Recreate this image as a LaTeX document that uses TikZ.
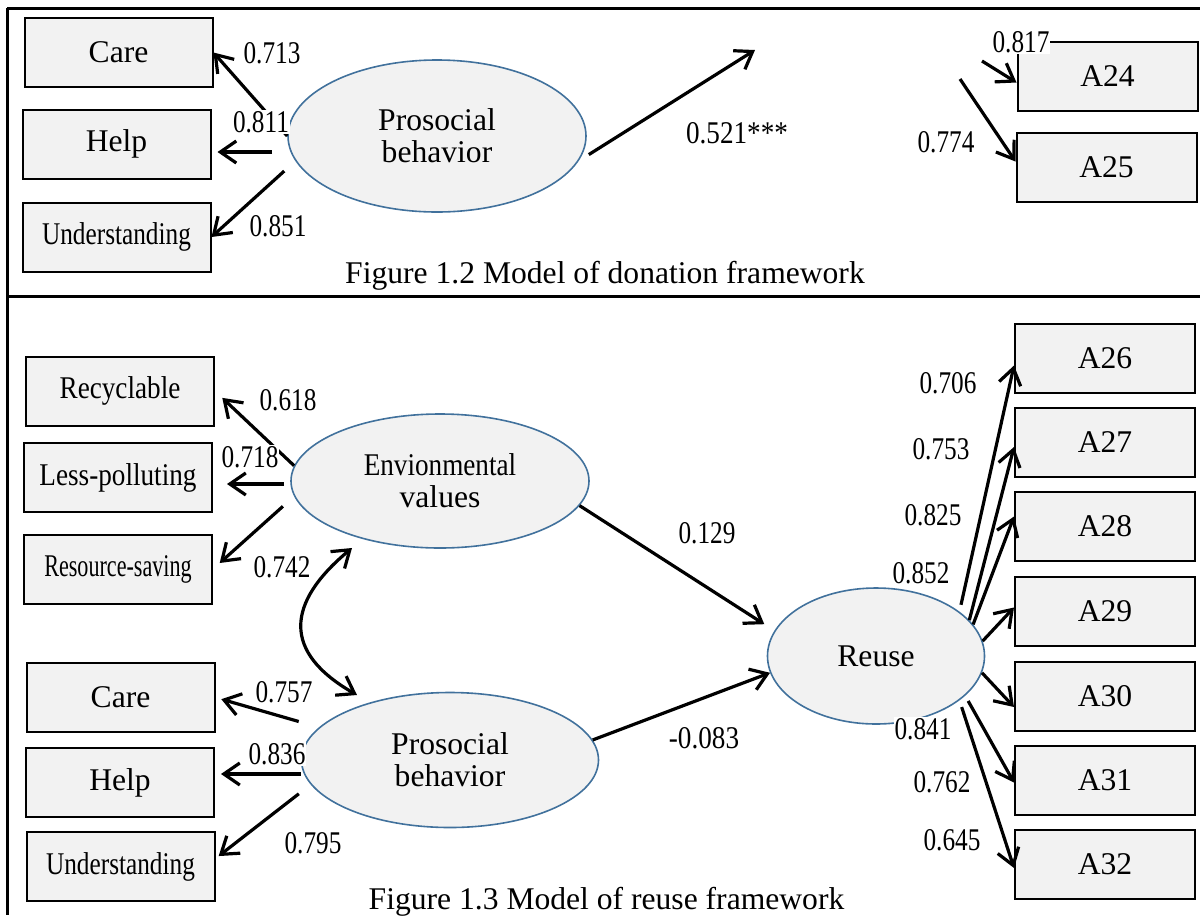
\documentclass[tikz,border=0pt]{standalone}
\usepackage{fontspec}
\setmainfont{Liberation Serif}
\newfontfamily\narrowfont[FakeStretch=0.8]{Liberation Serif}
\newfontfamily\slimfont[FakeStretch=0.86]{Liberation Serif}
\newfontfamily\tightfont[FakeStretch=0.7]{Liberation Serif}
\usetikzlibrary{arrows.meta,shapes.geometric}
\definecolor{boxgray}{HTML}{F2F2F2}
\definecolor{ovalblue}{HTML}{41719C}
\newcommand{\sz}{\fontsize{15.8}{16}\selectfont}

\begin{document}
\begin{tikzpicture}[
			x=0.5pt, y=-0.5pt,
			indicator/.style={rectangle, draw=black, fill=boxgray,
				line width=1pt, minimum width=94pt,
				minimum height=34.5pt, inner sep=0pt, font=\sz},
			measure/.style={indicator, minimum width=90pt},
			latent/.style={ellipse, draw=ovalblue, fill=boxgray,
				line width=0.8pt, inner sep=0pt, align=center,
				font=\sz},
			link/.style={line width=1.6pt, black,
				-{Straight Barb[length=8pt,width=11pt]}},
			coef/.style={fill=white, inner sep=0.5pt,
				font=\sz\narrowfont},
			figcap/.style={anchor=base, font=\sz},
			panelrule/.style={line width=1.5pt, black},
			]
			\useasboundingbox (0,0) rectangle (1200,917);
			\draw[panelrule](7,8)--(1200,8);
			\draw[panelrule](7,8)--(7,915);
			\draw[panelrule](7,296)--(1200,296);
			
			% donation framework
			\node[indicator] (care1) at (118.5,52.5) {Care};
			\node[indicator] (help1) at (116.5,144) {Help};
			\node[indicator] (und1) at (116.5,237) {\narrowfont Understanding};
			\node[latent, minimum width=149pt, minimum height=76pt]
			(pro1) at (437,136) {Prosocial\\behavior};
			\node[measure] (a24) at (1107.5,76.5) {A24};
			\node[measure] (a25) at (1106.5,167.5) {A25};
			\coordinate (don) at (755,50);
			\coordinate (d24) at (982,61);
			\coordinate (d25) at (960,79);
			\draw[link](pro1.west)--(care1.east);
			\draw[link, shorten <=7.5pt, shorten >=3pt]
			([yshift=-8pt]pro1.west)--([yshift=-8pt]pro1.west -| help1.east);
			\draw[link, shorten <=7.5pt](pro1.190)--(und1.east);
			\draw[link, shorten <=6pt](pro1.350)--(don);
			\draw[link](d24)--([yshift=-3pt]a24.west);
			\draw[link](d25)--([yshift=3pt]a25.west);
			\node[coef] (c713) at (272,53) {0.713};
			\node[coef] (c811) at (261,122) {0.811};
			\node[coef] (c851) at (278,226) {0.851};
			\node[coef, font=\sz\slimfont] (c521) at (737,133) {0.521***};
			\node[coef] (c817) at (1021,42) {0.817};
			\node[coef] (c774) at (946,142) {0.774};
			\node[figcap] (cap12) at (605,283)
			{Figure 1.2 Model of donation framework};
			
			% reuse framework
			\node[indicator] (recy) at (120,391) {\slimfont Recyclable};
			\node[indicator] (lesp) at (118,477.5) {\slimfont Less-polluting};
			\node[indicator] (ress) at (118,569) {\tightfont Resource-saving};
			\node[indicator] (care2) at (120.5,697.5) {Care};
			\node[indicator] (help2) at (120,782.5) {Help};
			\node[indicator] (und2) at (120.5,866.5) {\narrowfont Understanding};
			\node[latent, minimum width=149pt, minimum height=67pt]
			(env) at (440,481) {\slimfont Envionmental\\values};
			\node[latent, minimum width=148.5pt, minimum height=67.5pt]
			(pro2) at (450,760) {Prosocial\\behavior};
			\node[latent, minimum width=108.5pt, minimum height=68pt]
			(reuse) at (876,656) {Reuse};
			\node[measure] (a26) at (1105,358.5) {A26};
			\node[measure] (a27) at (1105,442) {A27};
			\node[measure] (a28) at (1105,526.5) {A28};
			\node[measure] (a29) at (1105,611.5) {A29};
			\node[measure] (a30) at (1105,696) {A30};
			\node[measure] (a31) at (1105,780.5) {A31};
			\node[measure] (a32) at (1105,864) {A32};
			\coordinate (cvtop) at (352,548);
			\coordinate (cvbot) at (357,695);
			
			\draw[link, shorten >=5pt](env.174)--(recy.east);
			\draw[link, shorten <=3pt, shorten >=7pt]
			([yshift=-1.5pt]env.west)--([yshift=-1.5pt]env.west -| lesp.east);
			\draw[link, shorten <=7.5pt, shorten >=4.5pt](env.186)--(ress.east);
			\draw[link, shorten <=10.5pt, shorten >=3pt](pro2.166)--(care2.east);
			\draw[link, shorten >=3pt]
			([yshift=-7pt]pro2.west)--([yshift=-7pt]pro2.west -| help2.east);
			\draw[link, shorten <=7.5pt, shorten >=2pt]
			(pro2.190)--([yshift=4pt]und2.east);
			\draw[line width=1.6pt, {Straight Barb[length=8pt,width=11pt]}-{Straight Barb[length=8pt,width=11pt]}]
			(cvtop) .. controls (286,603) and (282,652) .. (cvbot);
			\draw[link, shorten >=6pt](env.350)--(reuse.166);
			\draw[link](pro2.8)--(reuse.189);
			\draw[link, shorten <=3.5pt](reuse.28)--([yshift=-3.5pt]a26.west);
			\draw[link](reuse.21)--([yshift=-2.5pt]a27.west);
			\draw[link](reuse.18)--([yshift=5pt]a28.west);
			\draw[link](reuse.8)--([yshift=2pt]a29.west);
			\draw[link](reuse.351)--([yshift=-5.5pt]a30.west);
			\draw[link, shorten <=3pt](reuse.336)--([yshift=-1pt]a31.west);
			\draw[link, shorten <=3.5pt](reuse.332)--([yshift=-2pt]a32.west);
			
			\node[coef] (c618) at (288,400) {0.618};
			\node[coef] (c718) at (250,457) {0.718};
			\node[coef] (c742) at (282,567) {0.742};
			\node[coef] (c757) at (284,692) {0.757};
			\node[coef] (c836) at (277,754) {0.836};
			\node[coef] (c795) at (313,843) {0.795};
			\node[coef] (c129) at (707,533) {0.129};
			\node[coef, font=\sz\slimfont] (c083) at (704,738) {-0.083};
			\node[coef] (c706) at (948,383) {0.706};
			\node[coef] (c753) at (941,449) {0.753};
			\node[coef] (c825) at (933,515) {0.825};
			\node[coef] (c852) at (921,573) {0.852};
			\node[coef] (c841) at (923,729) {0.841};
			\node[coef] (c762) at (942,782) {0.762};
			\node[coef] (c645) at (952,840) {0.645};
			\node[figcap] (cap13) at (606.5,909)
			{Figure 1.3 Model of reuse framework};
		\end{tikzpicture}
\end{document}
